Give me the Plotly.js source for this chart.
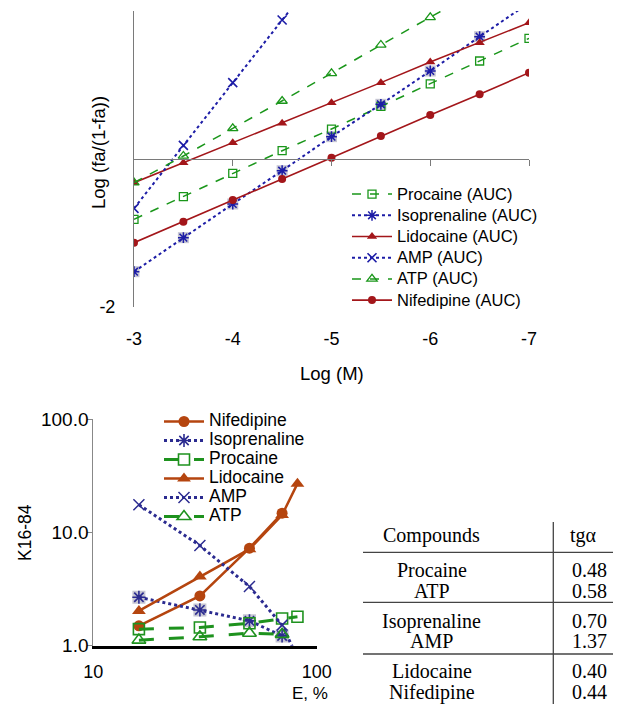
<!DOCTYPE html>
<html><head><meta charset="utf-8">
<script src="https://cdn.plot.ly/plotly-3.0.1.min.js"></script>
<style>html,body{margin:0;padding:0;background:#fff}</style>
</head><body><div id="chart" style="width:623px;height:704px"></div>
<script>
// ---- Top chart data: Log(fa/(1-fa)) vs Log(M)
const logM = [-3, -3.5, -4, -4.5, -5, -5.5, -6, -6.5, -7];
const procaineAUC = [-0.815, -0.509, -0.194, 0.112, 0.405, 0.71, 1.014, 1.324, 1.631];
const isoprenalineAUC = [-1.523, -1.063, -0.608, -0.158, 0.302, 0.739, 1.189, 1.653, 2.11];
const lidocaineAUC = [-0.320, -0.050, 0.221, 0.482, 0.761, 1.032, 1.311, 1.572, 1.842];
const ampAUC = [-0.667, 0.185, 1.032, 1.878, 2.72];
const atpAUC = [-0.320, 0.041, 0.414, 0.784, 1.158, 1.541, 1.915, 2.29];
const nifedipineAUC = [-1.131, -0.847, -0.554, -0.270, 0.018, 0.311, 0.595, 0.874, 1.166];
const topTicks = [-3, -4, -5, -6, -7];
const topTickText = ['-3', '-4', '-5', '-6', '-7'];

// ---- Bottom chart data: K16-84 vs E, %
const ePct = [16, 30, 50, 70, 82];
const ePctAMP = [16, 30, 50, 70, 80];
const nifedipineK = [1.50, 2.75, 7.27, 14.8];
const isoprenalineK = [2.68, 2.07, 1.66, 1.22];
const procaineK = [1.40, 1.45, 1.58, 1.74, 1.80];
const lidocaineK = [2.03, 4.08, 7.13, 14.3, 27.0];
const ampK = [17.6, 7.67, 3.33, 1.52, 0.87];
const atpK = [1.12, 1.20, 1.29, 1.26];

// ---- Table data
const compounds = ['Procaine', 'ATP', 'Isoprenaline', 'AMP', 'Lidocaine', 'Nifedipine'];
const tga = ['0.48', '0.58', '0.70', '1.37', '0.40', '0.44'];

const W = 623, H = 704;
const px = x => x / W;
const py = y => 1 - y / H;

const GREEN = '#1a961a', BLUE = '#1c1ca6', DRED = '#a3161a';
const BROWN = '#b5450f', NAVY = '#2b2b90', BGREEN = '#1e921e';
const GRAYSQ = '#c6c6d2';
const SANS = 'Liberation Sans, Arial, sans-serif';
const SERIF = 'Liberation Serif, Times New Roman, serif';
const topName = s => '<span style="font-size:16.5px">' + s + '</span>';
const botName = s => '<span style="font-size:17.5px">' + s + '</span>';

const traces = [
  // helper so the zero-line axis (x3) gets drawn
  {x: [-5], y: [0], xaxis: 'x3', yaxis: 'y', mode: 'markers', marker: {opacity: 0}, showlegend: false, hoverinfo: 'skip'},
  // top: gray background squares for isoprenaline
  {x: logM, y: isoprenalineAUC, xaxis: 'x', yaxis: 'y', mode: 'markers', showlegend: false, hoverinfo: 'skip',
   marker: {symbol: 'square', size: 11, color: GRAYSQ}},
  {name: topName('Procaine (AUC)'), x: logM, y: procaineAUC, xaxis: 'x', yaxis: 'y', mode: 'lines+markers',
   line: {color: GREEN, width: 1.5, dash: 'dash'}, marker: {symbol: 'square-open', size: 8, color: GREEN, line: {width: 1.3}}},
  {name: topName('Isoprenaline (AUC)'), x: logM, y: isoprenalineAUC, xaxis: 'x', yaxis: 'y', mode: 'lines+markers',
   line: {color: BLUE, width: 2, dash: 'dot'}, marker: {symbol: 'asterisk-open', size: 9, color: BLUE, line: {width: 1.5, color: BLUE}}},
  {name: topName('Lidocaine (AUC)'), x: logM, y: lidocaineAUC, xaxis: 'x', yaxis: 'y', mode: 'lines+markers',
   line: {color: DRED, width: 1.6}, marker: {symbol: 'triangle-up', size: 9, color: DRED}},
  {name: topName('AMP (AUC)'), x: logM.slice(0, ampAUC.length), y: ampAUC, xaxis: 'x', yaxis: 'y', mode: 'lines+markers',
   line: {color: BLUE, width: 2, dash: 'dot'}, marker: {symbol: 'x-thin-open', size: 9, color: BLUE, line: {width: 1.6, color: BLUE}}},
  {name: topName('ATP (AUC)'), x: logM.slice(0, atpAUC.length), y: atpAUC, xaxis: 'x', yaxis: 'y', mode: 'lines+markers',
   line: {color: GREEN, width: 1.5, dash: 'dash'}, marker: {symbol: 'triangle-up-open', size: 9, color: GREEN, line: {width: 1.3}}},
  {name: topName('Nifedipine (AUC)'), x: logM, y: nifedipineAUC, xaxis: 'x', yaxis: 'y', mode: 'lines+markers',
   line: {color: DRED, width: 1.6}, marker: {symbol: 'circle', size: 8, color: DRED}},

  // bottom: gray background squares for isoprenaline
  {x: ePct.slice(0, isoprenalineK.length), y: isoprenalineK, xaxis: 'x2', yaxis: 'y2', mode: 'markers', showlegend: false, hoverinfo: 'skip',
   marker: {symbol: 'square', size: 13, color: GRAYSQ}},
  {name: botName('Nifedipine'), legend: 'legend2', x: ePct.slice(0, nifedipineK.length), y: nifedipineK, xaxis: 'x2', yaxis: 'y2', mode: 'lines+markers',
   line: {color: BROWN, width: 2.5}, marker: {symbol: 'circle', size: 11, color: BROWN}},
  {name: botName('Isoprenaline'), legend: 'legend2', x: ePct.slice(0, isoprenalineK.length), y: isoprenalineK, xaxis: 'x2', yaxis: 'y2', mode: 'lines+markers',
   line: {color: NAVY, width: 3, dash: 'dot'}, marker: {symbol: 'asterisk-open', size: 11, color: NAVY, line: {width: 1.6, color: NAVY}}},
  {name: botName('Procaine'), legend: 'legend2', x: ePct, y: procaineK, xaxis: 'x2', yaxis: 'y2', mode: 'lines+markers',
   line: {color: BGREEN, width: 3, dash: 'longdash'}, marker: {symbol: 'square-open', size: 11, color: BGREEN, line: {width: 1.6}}},
  {name: botName('Lidocaine'), legend: 'legend2', x: ePct, y: lidocaineK, xaxis: 'x2', yaxis: 'y2', mode: 'lines+markers',
   line: {color: BROWN, width: 2.5}, marker: {symbol: 'triangle-up', size: 12, color: BROWN}},
  {name: botName('AMP'), legend: 'legend2', x: ePctAMP, y: ampK, xaxis: 'x2', yaxis: 'y2', mode: 'lines+markers',
   line: {color: NAVY, width: 3, dash: 'dot'}, marker: {symbol: 'x-thin-open', size: 11, color: NAVY, line: {width: 1.5, color: NAVY}}},
  {name: botName('ATP'), legend: 'legend2', x: ePct.slice(0, atpK.length), y: atpK, xaxis: 'x2', yaxis: 'y2', mode: 'lines+markers',
   line: {color: BGREEN, width: 3, dash: 'longdash'}, marker: {symbol: 'triangle-up-open', size: 12, color: BGREEN, line: {width: 1.6}}}
];

const annotations = [
  {text: 'Log (fa/(1-fa))', x: px(99), y: py(153), textangle: -90, font: {size: 18.5}},
  {text: 'Log (M)', x: px(332), y: py(373), font: {size: 18.5}},
  {text: 'K16-84', x: px(25), y: py(533), textangle: -90, font: {size: 17.5}},
  {text: 'E, %', x: px(310), y: py(693.5), font: {size: 17}},
  {text: 'Compounds', x: px(432), y: py(535), font: {family: SERIF, size: 20}},
  {text: 'tgα', x: px(583), y: py(535), font: {family: SERIF, size: 20}}
];
const rowY = [570, 591, 621, 641, 671, 692];
compounds.forEach((c, i) => {
  annotations.push({text: c, x: px(432), y: py(rowY[i]), font: {family: SERIF, size: 20}});
  annotations.push({text: tga[i], x: px(589), y: py(rowY[i]), font: {family: SERIF, size: 20}});
});
annotations.forEach(a => { a.xref = 'paper'; a.yref = 'paper'; a.showarrow = false; a.xanchor = 'center'; a.yanchor = 'middle'; });

const tableLine = {type: 'line', xref: 'paper', yref: 'paper', line: {color: '#444', width: 1.3}};
const shapes = [
  Object.assign({}, tableLine, {x0: px(363), x1: px(613), y0: py(552.3), y1: py(552.3)}),
  Object.assign({}, tableLine, {x0: px(363), x1: px(613), y0: py(602.3), y1: py(602.3)}),
  Object.assign({}, tableLine, {x0: px(363), x1: px(613), y0: py(654), y1: py(654)}),
  Object.assign({}, tableLine, {x0: px(553.3), x1: px(553.3), y0: py(522), y1: 0})
];

const layout = {
  width: W, height: H,
  margin: {l: 0, r: 0, t: 0, b: 0},
  paper_bgcolor: '#fff', plot_bgcolor: 'rgba(0,0,0,0)',
  font: {family: SANS, color: '#000', size: 16},
  showlegend: true,
  xaxis: {domain: [px(134), px(529)], range: [-3, -7], anchor: 'y', showline: false, ticks: '',
          tickvals: topTicks, ticktext: topTickText, tickfont: {size: 18}, ticklabelstandoff: 19,
          showgrid: false, zeroline: false},
  xaxis3: {overlaying: 'x', anchor: 'free', position: py(159), range: [-3, -7], showline: true,
           linecolor: '#7a7a7a', linewidth: 1, ticks: 'outside', ticklen: 6, tickcolor: '#7a7a7a',
           tickvals: [-4, -5, -6, -7], showticklabels: false, showgrid: false, zeroline: false},
  yaxis: {domain: [py(307), py(11)], range: [-2, 2], anchor: 'x', showline: true, linecolor: '#7a7a7a',
          ticks: 'inside', ticklen: 5, tickcolor: '#7a7a7a', tickvals: [-2], ticktext: ['-2'],
          tickfont: {size: 18}, ticklabelstandoff: 14, showgrid: false, zeroline: false},
  xaxis2: {type: 'log', domain: [px(93.3), px(316.7)], range: [1, 2], anchor: 'y2', showline: true,
           linecolor: '#000', linewidth: 3, ticks: '', tickvals: [10, 100], ticktext: ['10', '100'],
           tickfont: {size: 18}, ticklabelstandoff: 8, showgrid: false, zeroline: false},
  yaxis2: {type: 'log', domain: [py(645.7), py(419.3)], range: [0, 2], anchor: 'x2', showline: true,
           linecolor: '#888', ticks: 'outside', ticklen: 5, tickcolor: '#888', tickvals: [1, 10, 100],
           ticktext: ['1.0', '10.0', '100.0'], tickfont: {size: 19}, ticklabelstandoff: -5,
           showgrid: false, zeroline: false},
  legend: {x: px(347), y: py(178.5), xanchor: 'left', yanchor: 'top', bgcolor: 'rgba(0,0,0,0)',
           font: {size: 14}, itemwidth: 40},
  legend2: {x: px(159), y: py(407), xanchor: 'left', yanchor: 'top', bgcolor: 'rgba(0,0,0,0)',
            font: {size: 12.3}, itemwidth: 40},
  annotations: annotations,
  shapes: shapes
};

Plotly.newPlot('chart', traces, layout, {displayModeBar: false, staticPlot: true});
</script></body></html>
